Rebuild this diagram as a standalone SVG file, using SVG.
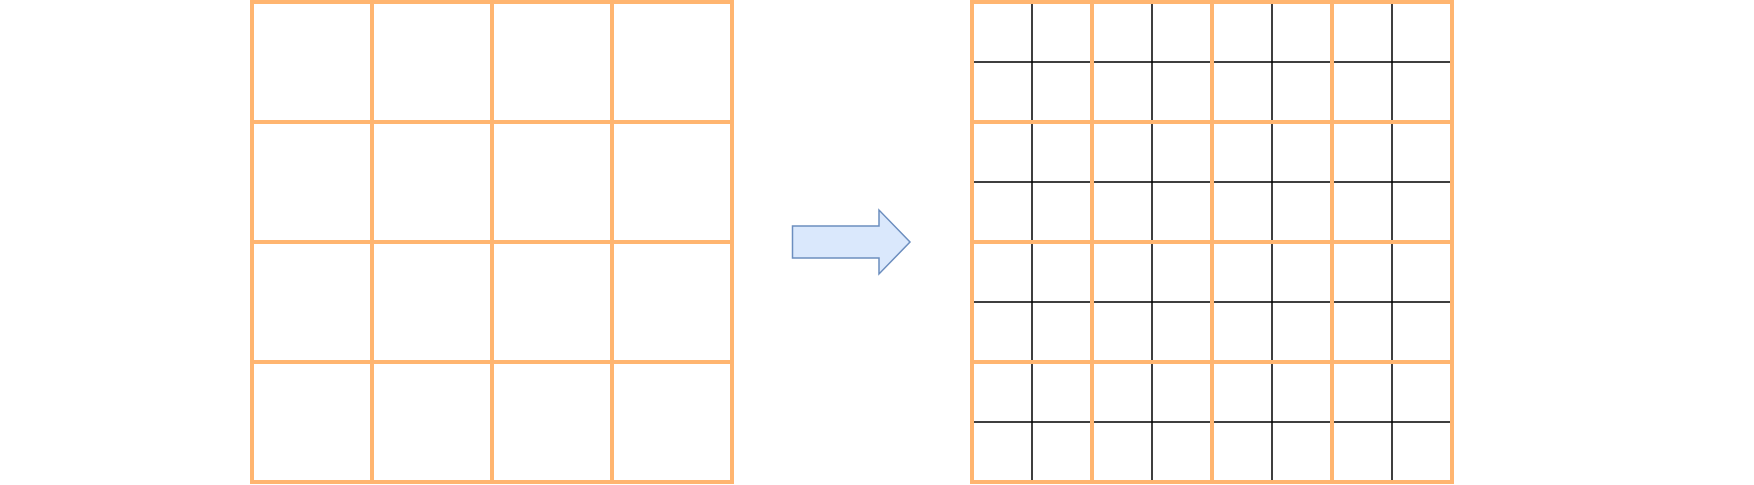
<svg xmlns="http://www.w3.org/2000/svg" width="1754" height="485" viewBox="0 0 1754 485">
<style>
.o{stroke:#FFB570;stroke-width:4;fill:none;stroke-linecap:square}
.k{stroke:#000000;stroke-width:1.5;fill:none}
.ar{fill:#dae8fc;stroke:#6c8ebf;stroke-width:1.5}
</style>
<rect width="1754" height="485" fill="#ffffff"/>
<g id="grid-left">
<path class="o" d="M252,2V482M372,2V482M492,2V482M612,2V482M732,2V482M252,2H732M252,122H732M252,242H732M252,362H732M252,482H732"/>
</g>
<g id="arrow">
<path class="ar" d="M792.5,226H879V210L910,242L879,274V258H792.5Z"/>
</g>
<g id="grid-right">
<path class="k" d="M1032,2V482M1152,2V482M1272,2V482M1392,2V482M972,62H1452M972,182H1452M972,302H1452M972,422H1452"/>
<path class="o" d="M972,2V482M1092,2V482M1212,2V482M1332,2V482M1452,2V482M972,2H1452M972,122H1452M972,242H1452M972,362H1452M972,482H1452"/>
</g>
<g id="connectors"></g>
</svg>
